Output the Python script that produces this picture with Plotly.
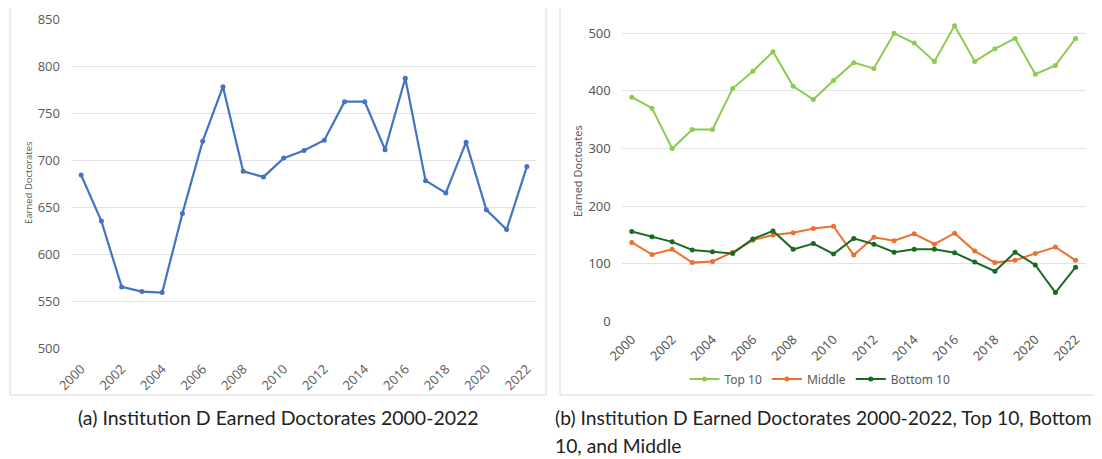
import plotly.graph_objects as go

years = list(range(2000, 2023))
total = [684, 635, 565, 560, 559, 643, 720, 778, 688, 682, 702, 710, 721, 762, 762,
         711, 787, 678, 665, 719, 647, 626, 693]
top10 = [389, 370, 300, 333, 333, 404, 434, 468, 408, 385, 418, 449, 439, 500, 483,
         451, 513, 451, 473, 491, 429, 444, 491]
middle = [137, 116, 125, 102, 104, 120, 141, 150, 154, 161, 165, 115, 146, 140, 152,
          134, 153, 122, 102, 106, 118, 129, 106]
bottom10 = [156, 147, 138, 124, 121, 118, 143, 157, 125, 135, 117, 144, 134, 120, 125,
            125, 119, 103, 87, 120, 98, 50, 94]
tick_years = list(range(2000, 2023, 2))
caption_a = "(a) Institution D Earned Doctorates 2000-2022"
caption_b1 = "(b) Institution D Earned Doctorates 2000-2022, Top 10, Bottom"
caption_b2 = "10, and Middle"

# page is offset by the default 8px body margin
OFF = 8
W, H = 1102 - OFF, 459 - OFF
def px(x):
    return (x - OFF) / W
def py(y):
    return 1 - (y - OFF) / H

fig = go.Figure()

fig.add_trace(go.Scatter(x=years, y=total, mode="lines+markers", xaxis="x", yaxis="y",
                         line=dict(color="#4472C4", width=2.2),
                         marker=dict(size=5, color="#4472C4"), showlegend=False))

fig.add_trace(go.Scatter(x=years, y=top10, mode="lines+markers", name="Top 10",
                         xaxis="x2", yaxis="y2",
                         line=dict(color="#8CCB4E", width=2),
                         marker=dict(size=5, color="#8CCB4E")))
fig.add_trace(go.Scatter(x=years, y=middle, mode="lines+markers", name="Middle",
                         xaxis="x2", yaxis="y2",
                         line=dict(color="#E97132", width=2),
                         marker=dict(size=5, color="#E97132")))
fig.add_trace(go.Scatter(x=years, y=bottom10, mode="lines+markers", name="Bottom 10",
                         xaxis="x2", yaxis="y2",
                         line=dict(color="#196B24", width=2),
                         marker=dict(size=5, color="#196B24")))

tick_font_l = dict(family="Open Sans", size=13, color="#595959")
tick_font_r = dict(family="Noto Sans", size=13, color="#595959")

fig.update_layout(
    width=W, height=H, autosize=False,
    margin=dict(l=0, r=0, t=0, b=0, pad=0, autoexpand=False),
    paper_bgcolor="white", plot_bgcolor="white",
    xaxis=dict(domain=[px(71), px(537)], range=[1999.5, 2022.5], tickvals=tick_years,
               tickangle=-45, tickfont=tick_font_l, showgrid=False, zeroline=False,
               showline=False, ticks="", anchor="y", automargin=False, ticklabelstandoff=10),
    yaxis=dict(domain=[py(348), py(19)], range=[500, 850], dtick=50,
               tickfont=tick_font_l, gridcolor="#E3E3E3", gridwidth=1, zeroline=False,
               showline=False, ticks="", anchor="x", automargin=False, ticklabelstandoff=10),
    xaxis2=dict(domain=[px(621.7), px(1085.7)], range=[1999.5, 2022.5], tickvals=tick_years,
                tickangle=-45, tickfont=tick_font_r, showgrid=False, zeroline=False,
                showline=False, ticks="", anchor="y2", automargin=False, ticklabelstandoff=7),
    yaxis2=dict(domain=[py(321.4), py(19.4)], range=[0, 524], tickvals=[0, 100, 200, 300, 400, 500],
                tickfont=tick_font_r, gridcolor="#E3E3E3", gridwidth=1, zeroline=False,
                showline=False, ticks="", anchor="x2", automargin=False, ticklabelstandoff=10),
    legend=dict(orientation="h", x=px(820), xanchor="center", y=py(379), yanchor="middle",
                font=dict(family="Noto Sans", size=12, color="#595959"),
                bgcolor="rgba(0,0,0,0)", itemwidth=30, tracegroupgap=0),
    shapes=[
        dict(type="rect", xref="paper", yref="paper", x0=px(10), x1=px(546), y0=py(395), y1=py(6),
             line=dict(color="#D9D9D9", width=1), fillcolor="rgba(0,0,0,0)", layer="below"),
        dict(type="rect", xref="paper", yref="paper", x0=px(560), x1=px(1095), y0=py(395), y1=py(6),
             line=dict(color="#D9D9D9", width=1), fillcolor="rgba(0,0,0,0)", layer="below"),
    ],
    annotations=[
        dict(text="Earned Doctorates", x=px(29), y=py(183), xref="paper", yref="paper",
             textangle=-90, showarrow=False, xanchor="center", yanchor="middle",
             font=dict(family="Open Sans", size=9.5, color="#595959")),
        dict(text="Earned Doctoates", x=px(578), y=py(171), xref="paper", yref="paper",
             textangle=-90, showarrow=False, xanchor="center", yanchor="middle",
             font=dict(family="Noto Sans", size=11, color="#595959")),
        dict(text=caption_a, x=px(278), y=py(417), xref="paper", yref="paper",
             showarrow=False, xanchor="center", yanchor="middle",
             font=dict(family="Lato", size=19.5, color="#222222")),
        dict(text=caption_b1, x=px(553), y=py(417), xref="paper", yref="paper",
             showarrow=False, xanchor="left", yanchor="middle", align="left",
             font=dict(family="Lato", size=19.3, color="#222222")),
        dict(text=caption_b2, x=px(553), y=py(445), xref="paper", yref="paper",
             showarrow=False, xanchor="left", yanchor="middle", align="left",
             font=dict(family="Lato", size=19.3, color="#222222")),
    ],
)

fig.write_html("out.html")
